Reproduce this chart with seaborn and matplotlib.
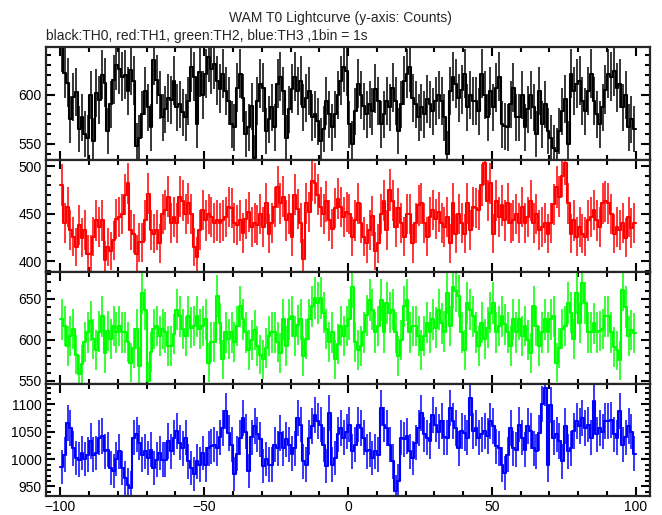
import numpy as np
import pandas as pd
import matplotlib
matplotlib.use("Agg")
import matplotlib.pyplot as plt
import seaborn as sns
from matplotlib.ticker import MultipleLocator

# WAM T0 lightcurve, 1 bin = 1 s, bins start at -100 s
bin_start = np.arange(-100, 100)

th0_counts = [
    648, 622, 612, 575, 598, 603, 565, 577, 560, 556,
    600, 553, 602, 595, 620, 612, 563, 590, 615, 630,
    626, 618, 620, 604, 625, 614, 548, 556, 580, 604,
    587, 567, 635, 615, 600, 577, 585, 597, 595, 614,
    587, 590, 582, 577, 594, 628, 618, 570, 623, 600,
    621, 638, 626, 631, 614, 606, 621, 604, 594, 570,
    567, 607, 621, 597, 560, 567, 588, 536,
    594, 611, 607, 563, 575, 587, 567, 611, 618, 604,
    556, 585, 606, 618, 604, 614, 587, 597, 604, 577,
    580, 573, 553, 565, 594, 580, 567, 580, 600, 614,
    628, 624, 570, 550, 583, 611, 600, 588, 580, 590,
    583, 606, 594, 570, 580, 594, 587, 607, 594, 563,
    590, 614, 621, 628, 597, 590, 577, 587, 580, 596,
    590, 583, 594, 600, 594, 577,
    540, 604, 618, 611, 597, 605, 621, 587, 600, 594,
    594, 583, 621, 600, 577, 604, 587, 607, 618, 570,
    568, 567, 590, 607, 577, 577, 600, 567, 585, 600,
    587, 560, 604, 570, 590, 563, 556, 546, 543, 563,
    583, 596, 550, 621, 604, 611, 614, 594, 583, 604,
    621, 594, 580, 570, 587, 605, 621, 618, 624, 607,
    611, 587, 600, 567, 575, 565,
]

th1_counts = [
    480, 440, 457, 433, 426, 415, 438, 425, 433, 408,
    408, 426, 443, 436, 443, 401, 415, 411, 422, 445,
    447, 450, 470, 482, 433, 429, 408, 420, 420, 443,
    471, 433, 429, 433, 419, 450, 454, 468, 440, 447,
    440, 468, 464, 450, 461, 450, 415, 405, 433, 454,
    443, 450, 447, 440, 443, 440, 443, 447, 457, 456,
    440, 438, 443, 430, 445, 452, 436, 440,
    438, 450, 436, 461, 429, 440, 457, 478, 461, 468,
    443, 450, 426, 470, 455, 440, 403, 461, 452, 485,
    482, 470, 457, 450, 463, 443, 434, 456, 466, 457,
    447, 452, 450, 426, 443, 461, 440, 426, 419, 433,
    448, 411, 419, 450, 464, 433, 475, 464, 436, 456,
    440, 426, 450, 450, 419, 440, 459, 461, 440, 426,
    447, 454, 445, 452, 440, 436,
    447, 419, 461, 429, 450, 440, 429, 461, 433, 457,
    456, 454, 480, 503, 464, 482, 429, 464, 447, 459,
    443, 461, 440, 443, 450, 440, 457, 440, 447, 464,
    440, 450, 433, 436, 440, 429, 440, 460, 478, 468,
    490, 503, 461, 429, 443, 426, 436, 429, 426, 443,
    447, 454, 443, 436, 461, 463, 461, 450, 429, 436,
    433, 440, 425, 447, 435, 440,
]

th2_counts = [
    625, 617, 593, 605, 613, 582, 558, 570, 597, 609,
    623, 601, 588, 610, 629, 584, 611, 601, 617, 609,
    617, 609, 609, 597, 572, 590, 613, 568, 657, 637,
    550, 585, 613, 617, 605, 613, 609, 593, 593, 607,
    637, 629, 613, 605, 629, 615, 617, 629, 613, 617,
    625, 572, 597, 597, 653, 620, 576, 609, 601, 609,
    597, 617, 641, 625, 609, 588, 600, 612,
    593, 582, 576, 590, 605, 609, 609, 597, 584, 625,
    593, 625, 629, 605, 618, 625, 580, 601, 625, 641,
    651, 645, 651, 633, 613, 597, 609, 576, 595, 617,
    605, 617, 625, 665, 597, 588, 593, 609, 630, 649,
    637, 609, 617, 649, 609, 645, 633, 637, 609, 580,
    600, 641, 649, 609, 617, 617, 605, 588, 605, 621,
    609, 625, 615, 637, 620, 610,
    657, 617, 665, 660, 653, 609, 588, 645, 637, 629,
    609, 593, 621, 601, 615, 633, 645, 609, 617, 629,
    619, 609, 593, 625, 609, 625, 605, 617, 600, 584,
    641, 617, 593, 609, 625, 609, 625, 629, 572, 590,
    613, 617, 645, 633, 601, 657, 621, 669, 645, 609,
    609, 620, 609, 611, 613, 629, 629, 609, 591, 587,
    575, 661, 640, 605, 612, 608,
]

th3_counts = [
    985, 1008, 1066, 1057, 1020, 1002, 999, 1011, 1000, 1008,
    1033, 1008, 1011, 1039, 1042, 1014, 1017, 984, 978, 1000,
    1014, 984, 966, 953, 947, 1039, 1045, 1030, 1008, 1014,
    1002, 1017, 984, 999, 1011, 999, 999, 1033, 1014, 1039,
    1051, 1030, 1020, 1039, 996, 984, 972, 996, 990, 1011,
    990, 1020, 1023, 1026, 1020, 1040, 1057, 1087, 1048, 1026,
    972, 1010, 1039, 1075, 1050, 978, 1040, 1060,
    1045, 1036, 987, 1000, 990, 990, 1026, 1020, 1048, 1020,
    1036, 1026, 1010, 1020, 1075, 1063, 996, 990, 1039, 1060,
    1081, 1069, 1063, 1026, 987, 1084, 990, 1002, 1045, 1057,
    1039, 1050, 1063, 1014, 1026, 1063, 1057, 1039, 1014, 1017,
    1002, 1014, 1008, 1093, 1063, 1057, 1026, 996, 941, 960,
    1039, 1036, 1042, 1014, 1002, 1030, 1057, 1084, 1045, 1039,
    1033, 1081, 1063, 1050, 1070, 1040,
    1039, 1093, 1070, 1057, 1020, 1051, 1048, 1039, 1112, 1051,
    1057, 1039, 1045, 1051, 1042, 1069, 1060, 1023, 1020, 990,
    975, 1008, 1057, 1020, 1017, 1063, 1039, 1017, 1060, 1051,
    1020, 1014, 1048, 1100, 1130, 990, 1099, 1039, 1045, 1033,
    996, 1060, 1014, 1020, 1051, 1069, 1060, 1075, 1057, 1063,
    1039, 1106, 1045, 1057, 1050, 1069, 1069, 1072, 1045, 1039,
    1087, 1026, 1040, 1060, 1050, 1010,
]

series = [th0_counts, th1_counts, th2_counts, th3_counts]
colors = ["black", "#ff0000", "#00ff00", "#0000ff"]
y_limits = [(534, 648), (389, 507), (546, 683), (932, 1137)]

sns.set_style("ticks")
plt.rcParams["font.family"] = ["Liberation Sans", "DejaVu Sans"]

fig, axes = plt.subplots(4, 1, figsize=(6.62, 5.15), dpi=100, sharex=True,
                         gridspec_kw={"hspace": 0})
fig.subplots_adjust(left=0.0695, right=0.982, top=0.908, bottom=0.0363)

for ax, counts, color, ylim in zip(axes, series, colors, y_limits):
    counts = np.asarray(counts, dtype=float)
    # step outline over bin edges, error bars at bin centres
    edges = np.append(bin_start, bin_start[-1] + 1)
    df = pd.DataFrame({"time": edges, "counts": np.append(counts, counts[-1])})
    sns.lineplot(data=df, x="time", y="counts", ax=ax, color=color, lw=1.5,
                 drawstyle="steps-post", estimator=None)
    ax.errorbar(bin_start + 0.5, counts, yerr=np.sqrt(counts), fmt="none",
                ecolor=color, elinewidth=1.1)

    ax.set_xlim(-105, 105)
    ax.set_ylim(ylim)
    ax.set_xlabel("")
    ax.set_ylabel("")
    ax.xaxis.set_major_locator(MultipleLocator(50))
    ax.xaxis.set_minor_locator(MultipleLocator(10))
    ax.yaxis.set_major_locator(MultipleLocator(50))
    ax.yaxis.set_minor_locator(MultipleLocator(10))
    ax.tick_params(which="both", direction="in", top=True, right=True,
                   width=1.5, colors="black", labelsize=10, pad=3)
    ax.tick_params(which="major", length=6.5)
    ax.tick_params(which="minor", length=3.5)
    for spine in ax.spines.values():
        spine.set_linewidth(1.6)
        spine.set_visible(True)

fig.text(0.514, 0.966, "WAM T0 Lightcurve (y-axis: Counts)", ha="center",
         va="center", fontsize=10)
fig.text(0.0695, 0.931, "black:TH0, red:TH1, green:TH2, blue:TH3 ,1bin = 1s",
         ha="left", va="center", fontsize=10)

fig.savefig("out.png", dpi=100)
